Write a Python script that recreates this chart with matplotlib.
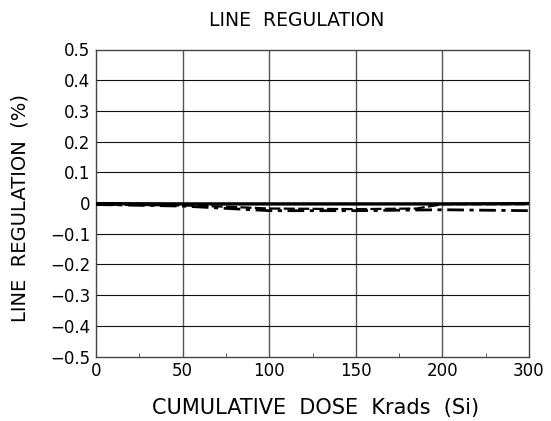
import matplotlib
matplotlib.use("Agg")
import matplotlib.pyplot as plt
import numpy as np

# cumulative dose (krads Si) and line regulation (%)
DOSE = [0, 50, 100, 150, 200, 300]
REG_SOLID = [-0.002, -0.003, -0.003, -0.003, -0.003, -0.002]

DOSE_DASH = [0, 50, 75, 100, 150, 185, 200, 300]
REG_DASH = [-0.005, -0.008, -0.012, -0.018, -0.020, -0.018, -0.004, -0.004]

DOSE_DASHDOT = [0, 50, 100, 150, 200, 300]
REG_DASHDOT = [-0.005, -0.010, -0.025, -0.025, -0.022, -0.025]

# the dose axis is not linear: 0..200 in steps of 50, then one step to 300
X_TICKS = [0, 50, 100, 150, 200, 300]
X_MINOR = [25, 75, 125, 175, 250]
Y_TICKS = [0.5, 0.4, 0.3, 0.2, 0.1, 0, -0.1, -0.2, -0.3, -0.4, -0.5]
Y_TICK_LABELS = ["0.5", "0.4", "0.3", "0.2", "0.1", "0",
                 "\u22120.1", "\u22120.2", "\u22120.3", "\u22120.4", "\u22120.5"]

STEPS = np.arange(len(X_TICKS), dtype=float)


def _forward(x):
    return np.interp(x, X_TICKS, STEPS)


def _inverse(s):
    return np.interp(s, STEPS, X_TICKS)


plt.rcParams["font.family"] = ["DejaVu Sans"]

W, H = 551, 421
fig = plt.figure(figsize=(W / 100, H / 100), dpi=100)
ax = fig.add_axes([96 / W, (H - 356.5) / H, (529 - 96) / W, (356.5 - 49.5) / H])

ax.set_xscale("function", functions=(_forward, _inverse))
ax.set_xlim(0, 300)
ax.set_ylim(-0.5, 0.5)

# grid: vertical at the inner dose ticks, horizontal every 0.1
for x in X_TICKS[1:-1]:
    ax.axvline(x, color="#555555", linewidth=1.0, zorder=1)
for y in Y_TICKS[1:-1]:
    ax.axhline(y, color="#111111", linewidth=0.8, zorder=1)

ax.plot(DOSE_DASH, REG_DASH, color="black", linewidth=1.6,
        linestyle=(0, (5, 1.5)), zorder=3)
ax.plot(DOSE_DASHDOT, REG_DASHDOT, color="black", linewidth=2.0,
        linestyle=(0, (6, 2, 1.5, 2)), zorder=3)
ax.plot(DOSE, REG_SOLID, color="black", linewidth=2.4, zorder=4)

for side in ax.spines.values():
    side.set_color("#444444")
    side.set_linewidth(1.0)

ax.set_xticks(X_TICKS)
ax.set_xticklabels([str(v) for v in X_TICKS])
ax.set_xticks(X_MINOR, minor=True)
ax.set_yticks(Y_TICKS)
ax.set_yticklabels(Y_TICK_LABELS)
ax.tick_params(axis="both", which="major", length=0, labelsize=12, pad=4)
ax.tick_params(axis="x", which="minor", direction="in", length=3, color="#444444",
               labelbottom=False)
ax.tick_params(axis="y", which="minor", length=0)

fig.text(297 / W, 1 - 20 / H, "LINE  REGULATION", ha="center", va="center", fontsize=13.5)
fig.text(316 / W, 1 - 408 / H, "CUMULATIVE  DOSE  Krads  (Si)", ha="center", va="center",
         fontsize=15)
fig.text(20 / W, 1 - 208 / H, "LINE  REGULATION  (%)", ha="center", va="center",
         rotation=90, fontsize=14)

fig.savefig("out.png", dpi=100)
